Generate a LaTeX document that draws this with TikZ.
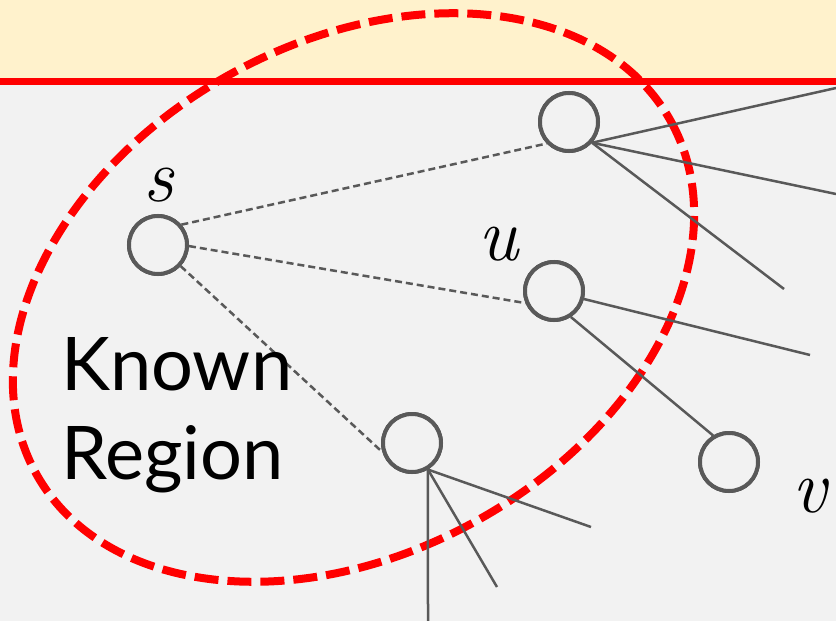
\documentclass[tikz,border=0pt]{standalone}
\usepackage{fontspec}
\newfontfamily\regionfont{Lato}
\definecolor{bandcream}{HTML}{FFF2CC}
\definecolor{bggray}{HTML}{F2F2F2}
\definecolor{nodegray}{HTML}{595959}
\definecolor{regionred}{HTML}{FF0000}
\tikzset{
  vtx/.style={circle,draw=nodegray,line width=4pt,fill=bggray,minimum size=58pt,inner sep=0pt},
  knownedge/.style={draw=nodegray,line width=2.5pt,dash pattern=on 7pt off 4pt},
  graphedge/.style={draw=nodegray,line width=2.5pt},
  mathlbl/.style={inner sep=0pt,font=\fontsize{76}{76}\selectfont\itshape},
  regiontext/.style={inner sep=0pt,anchor=base west,font=\regionfont\fontsize{74}{74}\selectfont},
  regionline/.style={draw=regionred,line width=8pt,dash pattern=on 24pt off 9pt}
}
\begin{document}
\begin{tikzpicture}[x=1pt,y=-1pt]
\useasboundingbox (0,0) rectangle (836,621);
\fill[bggray] (0,0) rectangle (836,621);
\fill[bandcream] (0,0) rectangle (836,81);
\draw[regionred,line width=7pt] (0,81) -- (836,81);

% nodes
\node[vtx] (s) at (158,245) {};
\node[vtx] (t) at (569,122) {};
\node[vtx] (u) at (554,291) {};
\node[vtx] (b) at (412,443) {};
\node[vtx] (v) at (729,462) {};

% free ends
\coordinate (t1) at (836,88);
\coordinate (t2) at (836,194);
\coordinate (t3) at (784,289);
\coordinate (u1) at (810,355);
\coordinate (b1) at (591,527);
\coordinate (b2) at (497,587);
\coordinate (b3) at (428,621);

% known region boundary
\draw[regionline,rotate around={29.1:(353.5,297.5)}] (353.5,297.5) ellipse [x radius=363, y radius=255];

% edges
\draw[knownedge] (s.41) -- (t.224);
\draw[knownedge] (s.-2) -- (u.203);
\draw[knownedge] (s.-43) -- (b.197);
\draw[graphedge] (t.-42) -- (t1);
\draw[graphedge] (t.-42) -- (t2);
\draw[graphedge] (t.-42) -- (t3);
\draw[graphedge] (u.-15) -- (u1);
\draw[graphedge] (u.-57) -- (v.121);
\draw[graphedge] (b.-59) -- (b1);
\draw[graphedge] (b.-59) -- (b2);
\draw[graphedge] (b.-59) -- (b3);

% redraw nodes on top
\node[vtx] at (s) {};
\node[vtx] at (t) {};
\node[vtx] at (u) {};
\node[vtx] at (b) {};
\node[vtx] at (v) {};

% labels
\node[mathlbl] (slbl) at (159,185) {s};
\node[mathlbl] (ulbl) at (498,244) {u};
\node[mathlbl] (vlbl) at (810,496) {v};
\node[regiontext] (known) at (61,390) {Known};
\node[regiontext] (region) at (61,479) {Region};
\end{tikzpicture}
\end{document}
